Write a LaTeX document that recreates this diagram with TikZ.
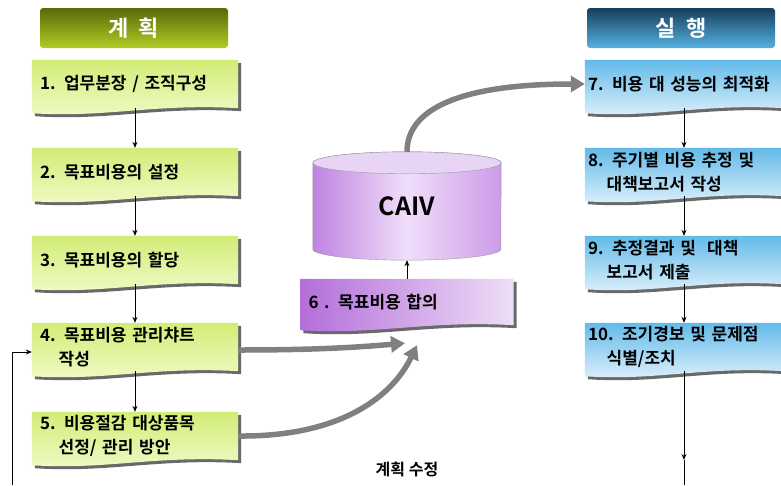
\documentclass[tikz,border=0pt]{standalone}
\usepackage{fontspec}
\setmainfont{Noto Sans CJK KR}[BoldFont={Noto Sans CJK KR Bold}]
\usetikzlibrary{arrows.meta,calc,backgrounds}

\definecolor{greenA}{RGB}{210,237,118}
\definecolor{greenB}{RGB}{240,250,200}
\definecolor{blueA}{RGB}{98,186,233}
\definecolor{blueB}{RGB}{225,242,251}
\definecolor{purpA}{RGB}{180,110,218}
\definecolor{purpB}{RGB}{238,222,246}
\definecolor{cylA}{RGB}{192,132,225}
\definecolor{cylB}{RGB}{240,222,250}
\definecolor{cylC}{RGB}{205,155,232}
\definecolor{cyltop}{RGB}{232,212,245}
\definecolor{oliveA}{RGB}{92,104,8}
\definecolor{oliveB}{RGB}{176,206,38}
\definecolor{navyA}{RGB}{22,62,92}
\definecolor{navyB}{RGB}{86,178,226}
\definecolor{arrowgray}{RGB}{128,128,128}
\definecolor{boxshadow}{RGB}{105,105,105}

\tikzset{
  docpath/.style={insert path={(#1.north west) -- (#1.north east) -- (#1.south east)
      .. controls ($(#1.south west)!0.6!(#1.south east)+(0,5pt)$)
      and ($(#1.south west)!0.35!(#1.south east)+(0,-10pt)$)
      .. ($(#1.south west)+(0,-5pt)$) -- cycle}},
  stepbox/.style={minimum height=48pt, inner ysep=0pt, align=left,
      font=\bfseries\fontsize{17}{24}\selectfont},
  planbox/.style={stepbox, text width=190pt, inner xsep=8pt},
  runbox/.style={stepbox, text width=192pt, inner xsep=3pt},
  header/.style={minimum width=188pt, minimum height=40pt, rounded corners=3pt,
      text=white, font=\bfseries\fontsize{22}{26}\selectfont},
  flow/.style={draw=black, line width=0.9pt, -{Stealth[length=6pt,width=5pt]}},
  bigarrow/.style={draw=arrowgray, line width=5.5pt, -{Triangle[length=14pt,width=16pt]}}
}

\begin{document}
\begin{tikzpicture}[x=1pt, y=-1pt]
  \useasboundingbox (0,0) rectangle (781,485);

  % headers
  \node[header, top color=oliveA, bottom color=oliveB] (plan) at (134,28) {계\ \ 획};
  \node[header, top color=navyA, bottom color=navyB] (run) at (681,28) {실\ \ 행};

  % plan steps
  \node[planbox] (b1) at (135,84) {1. 업무분장 / 조직구성};
  \node[planbox] (b2) at (135,172) {2. 목표비용의 설정};
  \node[planbox] (b3) at (135,260) {3. 목표비용의 할당};
  \node[planbox] (b4) at (135,347) {4. 목표비용 관리챠트\\\hspace*{1.1em}작성};
  \node[planbox] (b5) at (135,436) {5. 비용절감 대상품목\\\hspace*{1.1em}선정/ 관리 방안};

  % run steps
  \node[runbox] (b7) at (684,84) {7. 비용 대 성능의 최적화};
  \node[runbox] (b8) at (684,172) {8. 주기별 비용 추정 및\\\hspace*{1.1em}대책보고서 작성};
  \node[runbox] (b9) at (684,260) {9. 추정결과 및 \ 대책\\\hspace*{1.1em}보고서 제출};
  \node[runbox] (b10) at (684,347) {10. 조기경보 및 문제점\\\hspace*{1.1em}식별/조치};

  % CAIV
  \node[minimum width=188pt, minimum height=108pt, inner sep=0pt,
        font=\bfseries\fontsize{25}{28}\selectfont] (caiv) at (407,206) {CAIV};
  \node[planbox, text width=197pt, minimum height=46pt] (b6) at (407,302) {6 . 목표비용 합의};

  \begin{scope}[on background layer]
    \foreach \b in {b1,b2,b3,b4,b5,b6,b7,b8,b9,b10}
      \fill[boxshadow, transform canvas={shift={(3pt,-3pt)}}, docpath=\b];
    \foreach \b in {b1,b2,b3,b4,b5}
      \shade[top color=greenA, bottom color=greenB, docpath=\b];
    \foreach \b in {b7,b8,b9,b10}
      \shade[top color=blueA, bottom color=blueB, docpath=\b];
    \shade[left color=purpA, right color=purpB, docpath=b6];
    % cylinder
    \shade[left color=cylA, right color=cylC, middle color=cylB, draw=gray!80]
      ($(caiv.north west)+(0,-11pt)$) -- ($(caiv.south west)+(0,11pt)$)
      arc[start angle=180, end angle=360, x radius=94pt, y radius=11pt]
      -- ($(caiv.north east)+(0,-11pt)$)
      arc[start angle=0, end angle=180, x radius=94pt, y radius=11pt] -- cycle;
    \fill[cyltop, draw=gray!80] ($(caiv.north)+(0,-11pt)$) ellipse [x radius=94pt, y radius=11pt];
  \end{scope}

  \draw[flow] (b1) -- (b2);
  \draw[flow] (b2) -- (b3);
  \draw[flow] (b3) -- (b4);
  \draw[flow] (b4) -- (b5);
  \draw[flow] (b7) -- (b8);
  \draw[flow] (b8) -- (b9);
  \draw[flow] (b9) -- (b10);
  \draw[flow] (b6) -- (caiv);

  \coordinate (r10) at (684,460);
  \coordinate (rbot) at (684,485);
  \draw[flow] (b10) -- (r10);
  \draw[line width=0.9pt] (r10) -- (rbot);

  % plan revision loop
  \coordinate (fb) at (12,485);
  \draw[flow] (fb) |- ([yshift=-5pt]b4.west);
  \node[font=\bfseries\fontsize{16}{18}\selectfont] (fix) at (407,469) {계획 수정};

  % gray arrows
  \draw[bigarrow] ([yshift=-3pt]b4.east) .. controls (320,350) and (360,347) .. ($(b6.south)+(-2pt,-18pt)$);
  \draw[bigarrow] (b5.east) .. controls (340,437) and (392,397) .. ($(b6.south)+(10pt,-20pt)$);
  \draw[bigarrow] (caiv.north) .. controls (407,105) and (470,84) .. (b7.west);
\end{tikzpicture}
\end{document}
